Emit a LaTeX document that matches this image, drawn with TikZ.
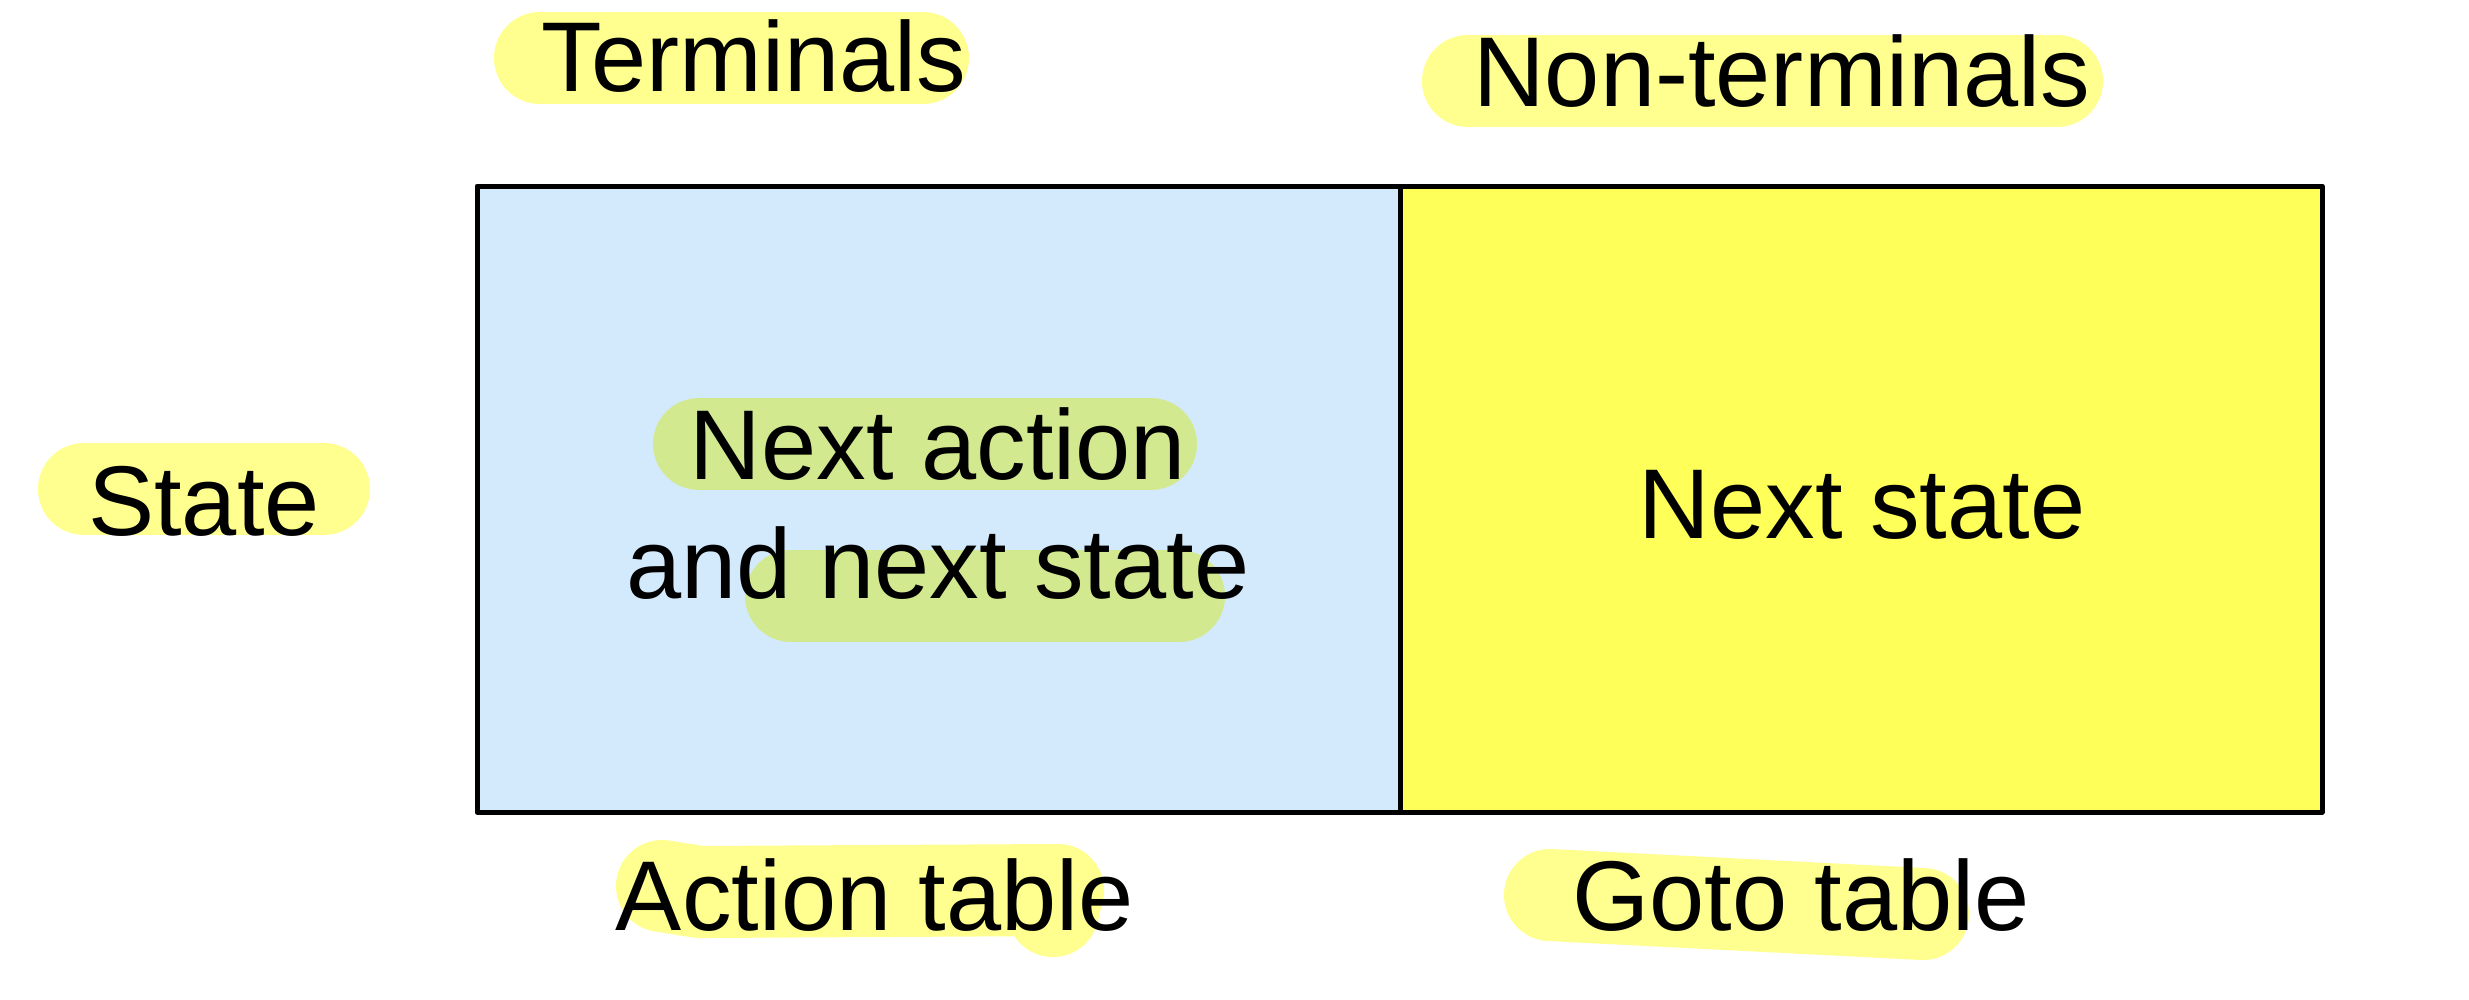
\documentclass[tikz,border=0pt]{standalone}
\usepackage{fontspec}
\setmainfont{Liberation Sans}
\usetikzlibrary{positioning}
\definecolor{actblue}{HTML}{D3EAFC}
\definecolor{gotoyel}{HTML}{FFFF59}
\definecolor{marker}{HTML}{FFFF8F}
\definecolor{markeronblue}{HTML}{D3E98F}
\tikzset{lbl/.style={font=\fontsize{28.2}{33.6}\selectfont,inner sep=0pt,anchor=base},
  hl/.style={line width=0.92cm,line cap=round,line join=round,marker},
  cell/.style={line width=0.05cm,draw=black}}

\begin{document}
\begin{tikzpicture}[x=0.01cm,y=-0.01cm,line join=round]
\useasboundingbox (0,0) rectangle (2469,999);
% --- table: action part and goto part
\draw[cell,fill=actblue] (477,186) rectangle (1400,812);
\draw[cell,fill=gotoyel] (1400,186) rectangle (2322,812);
% --- marker strokes behind the labels
\draw[hl] (540,58) -- (923,58);
\draw[hl] (1468,81) -- (2057,81);
\draw[hl] (84,489) -- (324,489);
\draw[hl,markeronblue] (699,444) -- (1151,444);
\draw[hl,markeronblue] (791,596) -- (1179,596);
\draw[hl] (662,886) -- (700,892) -- (1058,890) -- (1053,911);
\draw[hl] (1550,895) -- (1923,914);
% --- labels
\node[lbl] (term) at (754,91) {Terminals};
\node[lbl] (nonterm) at (1782,106) {Non-terminals};
\node[lbl] (state) at (204,535) {State};
\node[lbl,align=center] (nextact) at (938,598) {Next action\\and next state};
\node[lbl] (nextstate) at (1862,538) {Next state};
\node[lbl] (acttab) at (875,930) {Action table};
\node[lbl] (gototab) at (1801,930) {Goto table};
\end{tikzpicture}
\end{document}
